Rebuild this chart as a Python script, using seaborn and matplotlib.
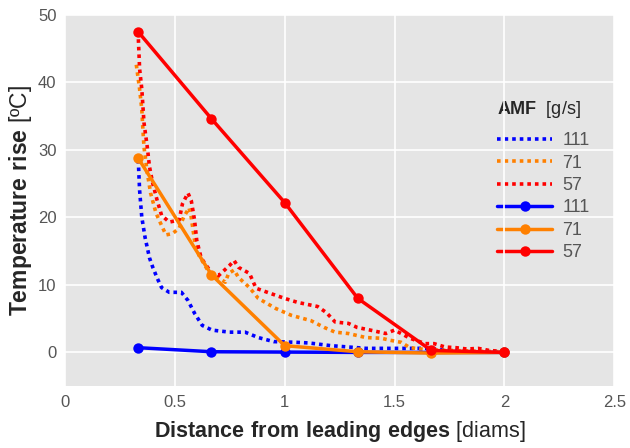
import numpy as np
import pandas as pd
import matplotlib
matplotlib.use("Agg")
import matplotlib.pyplot as plt
import seaborn as sns

# Solid lines: measured points
pts_x = [0.333, 0.667, 1.0, 1.333, 1.667, 2.0]
solid_111 = [0.7, 0.1, 0.05, 0.0, 0.0, 0.0]
solid_71 = [28.8, 11.5, 1.0, 0.1, -0.1, 0.0]
solid_57 = [47.5, 34.6, 22.2, 8.0, 0.3, 0.0]

# Dotted lines: continuous profiles
dot_111_x = [0.333, 0.335, 0.34, 0.35, 0.365, 0.385, 0.40, 0.42, 0.44, 0.475, 0.53, 0.56,
             0.59, 0.625, 0.67, 0.75, 0.82, 0.88, 0.95, 1.05, 1.11, 1.21, 1.37, 1.52, 1.64,
             1.75, 1.85, 2.0]
dot_111_y = [28.5, 27.7, 24, 20, 17, 14, 12.6, 11, 9.6, 8.9, 8.9, 7.7,
             5.8, 4.0, 3.3, 3.0, 3.0, 2.2, 1.6, 1.5, 1.4, 1.0, 0.6, 0.6, 0.6,
             0.3, 0.2, 0.1]

dot_71_x = [0.325, 0.34, 0.35, 0.355, 0.36, 0.375, 0.39, 0.415, 0.44, 0.46, 0.49, 0.52,
            0.54, 0.565, 0.575, 0.59, 0.61, 0.655, 0.73, 0.745, 0.77, 0.79, 0.84, 0.88,
            0.96, 1.03, 1.12, 1.18, 1.23, 1.29, 1.37, 1.44, 1.48, 1.53, 1.57, 1.65, 1.75,
            1.85, 2.0]
dot_71_y = [42.6, 39, 36, 33, 30.4, 26.6, 23.6, 20.6, 18.8, 17.4, 17.6, 18.4,
            20, 21.4, 20, 16.6, 14.4, 11.9, 10.4, 11.7, 12.2, 11.1, 9.6, 8.0,
            6.5, 5.5, 4.7, 3.7, 3.0, 2.8, 2.2, 2.1, 1.8, 1.5, 0.7, 0.4, 0.3,
            0.2, 0.1]

dot_57_x = [0.333, 0.34, 0.35, 0.36, 0.375, 0.385, 0.40, 0.42, 0.44, 0.475, 0.52, 0.535,
            0.56, 0.575, 0.59, 0.60, 0.62, 0.645, 0.67, 0.70, 0.75, 0.77, 0.79, 0.84,
            0.87, 0.93, 1.0, 1.06, 1.12, 1.15, 1.19, 1.23, 1.29, 1.33, 1.39, 1.46, 1.50,
            1.53, 1.57, 1.64, 1.68, 1.73, 1.78, 1.83, 1.88, 1.93, 2.0]
dot_57_y = [47.5, 42, 39, 34, 30.4, 27.5, 25, 22.5, 20.3, 19.3, 19.6, 22,
            23.6, 22.5, 19.6, 16.6, 14, 12.8, 11.7, 11.4, 12.9, 13.6, 12.6, 11.7,
            9.5, 8.8, 8.0, 7.4, 7.0, 6.8, 5.9, 4.5, 4.3, 3.7, 3.3, 2.8, 3.3,
            2.8, 2.1, 1.3, 1.3, 0.8, 0.7, 0.5, 0.6, 0.3, 0.1]

labels = ["111", "71", "57"]
colors = ["#0000ff", "#ff8000", "#ff0000"]

sns.set_style("darkgrid", {"axes.facecolor": "#e5e5e5", "grid.color": "white"})
plt.rcParams["font.family"] = ["Liberation Sans", "DejaVu Sans"]
plt.rcParams["mathtext.fontset"] = "custom"
plt.rcParams["mathtext.bf"] = "Liberation Sans:bold"
plt.rcParams["mathtext.rm"] = "Liberation Sans"

fig = plt.figure(figsize=(6.3, 4.48), dpi=100)
ax = fig.add_axes([0.103, 0.138, 0.872, 0.829])

dotted = [(dot_111_x, dot_111_y), (dot_71_x, dot_71_y), (dot_57_x, dot_57_y)]
for (dx, dy), lab, c in zip(dotted, labels, colors):
    sns.lineplot(x=dx, y=dy, ax=ax, color=c, linestyle=(0, (1, 1.1)), linewidth=2.6,
                 sort=False, estimator=None, label=lab)

for sy, lab, c in zip([solid_111, solid_71, solid_57], labels, colors):
    sns.lineplot(x=pts_x, y=sy, ax=ax, color=c, linewidth=2.5, marker="o",
                 markersize=7.5, markeredgewidth=0, sort=False, estimator=None, label=lab)

ax.set_xlim(0, 2.5)
ax.set_ylim(-5, 50)
ax.set_xticks([0, 0.5, 1, 1.5, 2, 2.5])
ax.set_xticklabels(["0", "0.5", "1", "1.5", "2", "2.5"])
ax.set_yticks([0, 10, 20, 30, 40, 50])
ax.tick_params(axis="both", labelsize=12, labelcolor="#555555", length=0, pad=6)
ax.grid(True, color="white", linewidth=1.2)
for s in ax.spines.values():
    s.set_visible(False)

ax.set_xlabel(r"$\bf{Distance\ from\ leading\ edges}$ [diams]", fontsize=15.5, labelpad=7)
ax.set_ylabel(r"$\bf{Temperature\ rise}$ [ºC]", fontsize=16.5, labelpad=3)

leg = ax.legend(title=r"$\bf{AMF}$  [g/s]", loc="upper left", bbox_to_anchor=(0.787, 0.774),
                frameon=False, fontsize=13, title_fontsize=13, handlelength=3.05,
                handletextpad=0.55, labelspacing=0.30, borderpad=0, borderaxespad=0,
                alignment="left")
leg.set_zorder(0.4)
for t in leg.get_texts():
    t.set_color("#555555")
leg._legend_box.sep = 9

fig.savefig("out.png", dpi=100)
